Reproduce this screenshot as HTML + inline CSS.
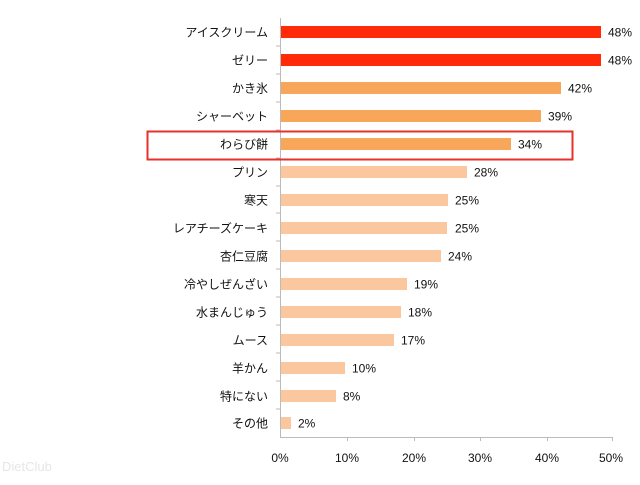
<!DOCTYPE html>
<html><head><meta charset="utf-8"><style>
body{margin:0;background:#fff;width:640px;height:480px;overflow:hidden;}
svg text{font-family:"Liberation Sans","Noto Sans CJK JP",sans-serif;font-size:12px;fill:#111;}
</style></head><body>
<svg width="640" height="480" xmlns="http://www.w3.org/2000/svg">
<g stroke="#bbb" stroke-width="1">
<line x1="280.5" y1="18" x2="280.5" y2="437"/>
<line x1="280" y1="437.5" x2="613" y2="437.5"/>
<line x1="276" y1="46" x2="280" y2="46"/><line x1="276" y1="74" x2="280" y2="74"/>
<line x1="276" y1="102" x2="280" y2="102"/><line x1="276" y1="130" x2="280" y2="130"/>
<line x1="276" y1="158" x2="280" y2="158"/><line x1="276" y1="186" x2="280" y2="186"/>
<line x1="276" y1="213" x2="280" y2="213"/><line x1="276" y1="241" x2="280" y2="241"/>
<line x1="276" y1="269" x2="280" y2="269"/><line x1="276" y1="297" x2="280" y2="297"/>
<line x1="276" y1="325" x2="280" y2="325"/><line x1="276" y1="353" x2="280" y2="353"/>
<line x1="276" y1="381" x2="280" y2="381"/><line x1="276" y1="409" x2="280" y2="409"/>
<line x1="347.5" y1="437" x2="347.5" y2="441"/><line x1="414.5" y1="437" x2="414.5" y2="441"/>
<line x1="480.5" y1="437" x2="480.5" y2="441"/><line x1="547.5" y1="437" x2="547.5" y2="441"/>
<line x1="612.5" y1="437" x2="612.5" y2="441"/>
</g>
<g transform="translate(0,32)"><rect x="281" y="-6" width="320" height="12" fill="#ff2a0a"/><text x="268" y="4.5" text-anchor="end">アイスクリーム</text><text x="608" y="4.5">48%</text></g>
<g transform="translate(0,60)"><rect x="281" y="-6" width="320" height="12" fill="#ff2a0a"/><text x="268" y="4.5" text-anchor="end">ゼリー</text><text x="608" y="4.5">48%</text></g>
<g transform="translate(0,88)"><rect x="281" y="-6" width="280" height="12" fill="#f7a65a"/><text x="268" y="4.5" text-anchor="end">かき氷</text><text x="568" y="4.5">42%</text></g>
<g transform="translate(0,116)"><rect x="281" y="-6" width="260" height="12" fill="#f7a65a"/><text x="268" y="4.5" text-anchor="end">シャーベット</text><text x="548" y="4.5">39%</text></g>
<g transform="translate(0,144)"><rect x="281" y="-6" width="230" height="12" fill="#f7a65a"/><text x="268" y="4.5" text-anchor="end">わらび餅</text><text x="518" y="4.5">34%</text></g>
<g transform="translate(0,172)"><rect x="281" y="-6" width="186" height="12" fill="#fbc79e"/><text x="268" y="4.5" text-anchor="end">プリン</text><text x="474" y="4.5">28%</text></g>
<g transform="translate(0,200)"><rect x="281" y="-6" width="167" height="12" fill="#fbc79e"/><text x="268" y="4.5" text-anchor="end">寒天</text><text x="455" y="4.5">25%</text></g>
<g transform="translate(0,228)"><rect x="281" y="-6" width="166" height="12" fill="#fbc79e"/><text x="268" y="4.5" text-anchor="end">レアチーズケーキ</text><text x="455" y="4.5">25%</text></g>
<g transform="translate(0,256)"><rect x="281" y="-6" width="160" height="12" fill="#fbc79e"/><text x="268" y="4.5" text-anchor="end">杏仁豆腐</text><text x="448" y="4.5">24%</text></g>
<g transform="translate(0,284)"><rect x="281" y="-6" width="126" height="12" fill="#fbc79e"/><text x="268" y="4.5" text-anchor="end">冷やしぜんざい</text><text x="414" y="4.5">19%</text></g>
<g transform="translate(0,312)"><rect x="281" y="-6" width="120" height="12" fill="#fbc79e"/><text x="268" y="4.5" text-anchor="end">水まんじゅう</text><text x="408" y="4.5">18%</text></g>
<g transform="translate(0,340)"><rect x="281" y="-6" width="113" height="12" fill="#fbc79e"/><text x="268" y="4.5" text-anchor="end">ムース</text><text x="401" y="4.5">17%</text></g>
<g transform="translate(0,368)"><rect x="281" y="-6" width="64" height="12" fill="#fbc79e"/><text x="268" y="4.5" text-anchor="end">羊かん</text><text x="352" y="4.5">10%</text></g>
<g transform="translate(0,396)"><rect x="281" y="-6" width="55" height="12" fill="#fbc79e"/><text x="268" y="4.5" text-anchor="end">特にない</text><text x="343" y="4.5">8%</text></g>
<g transform="translate(0,423)"><rect x="281" y="-6" width="10" height="12" fill="#fbc79e"/><text x="268" y="4.5" text-anchor="end">その他</text><text x="298" y="4.5">2%</text></g>
<rect x="147.5" y="131.5" width="425" height="28" fill="none" stroke="#e5322a" stroke-width="2"/>
<text x="280" y="462" text-anchor="middle">0%</text>
<text x="347" y="462" text-anchor="middle">10%</text>
<text x="414" y="462" text-anchor="middle">20%</text>
<text x="480" y="462" text-anchor="middle">30%</text>
<text x="547" y="462" text-anchor="middle">40%</text>
<text x="611" y="462" text-anchor="middle">50%</text>
<text x="2" y="471" style="fill:#e6e6e6;font-size:13px">DietClub</text>
</svg>
</body></html>
